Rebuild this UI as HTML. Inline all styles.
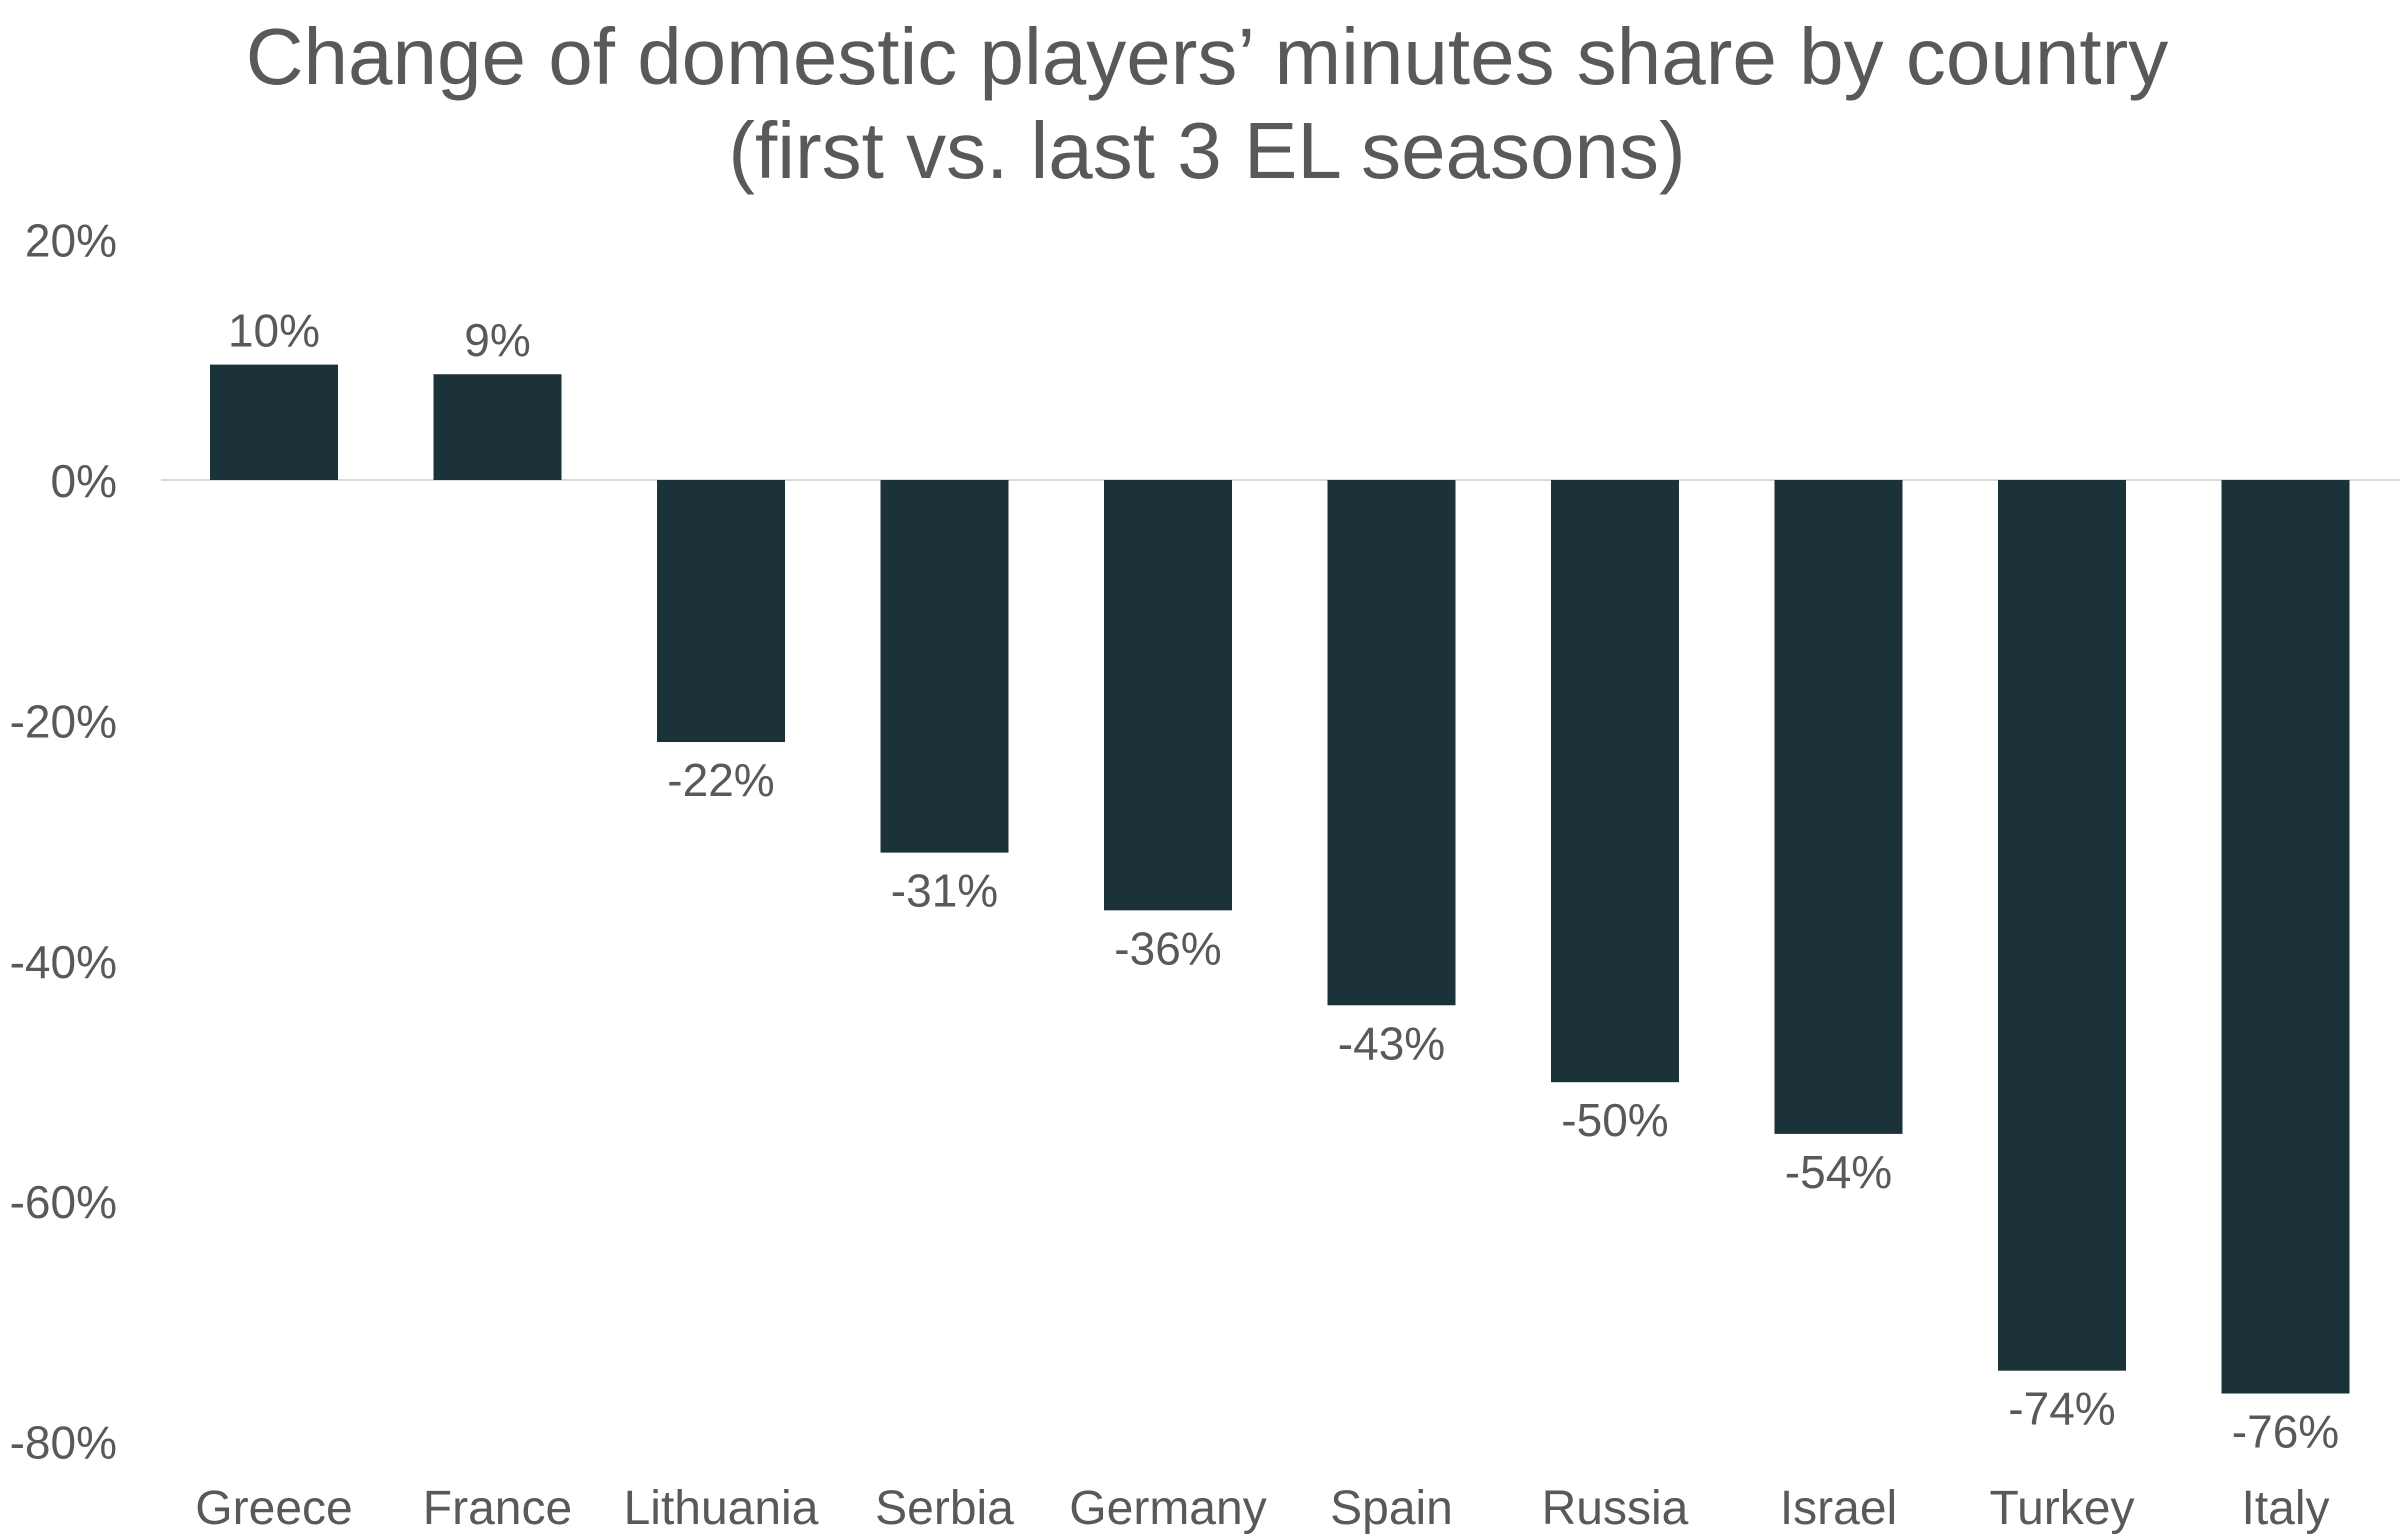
<!DOCTYPE html>
<html><head><meta charset="utf-8"><style>
html,body{margin:0;padding:0;background:#fff;}
svg{display:block;font-family:"Liberation Sans",sans-serif;}
</style></head><body>
<svg id="chart" width="2400" height="1536" viewBox="0 0 2400 1536" xmlns="http://www.w3.org/2000/svg">
<text x="1207" y="84" text-anchor="middle" font-size="80" fill="#595959">Change of domestic players’ minutes share by country</text>
<text x="1207" y="178" text-anchor="middle" font-size="80" fill="#595959">(first vs. last 3 EL seasons)</text>
<g id="yaxis"></g>
<line x1="161" x2="2400" y1="480" y2="480" stroke="#d9d9d9" stroke-width="2"/>
<g id="bars"></g>
<g id="xaxis"></g>
</svg>
<script>
const categories = ["Greece","France","Lithuania","Serbia","Germany","Spain","Russia","Israel","Turkey","Italy"];
const values = [9.6, 8.8, -21.8, -31.0, -35.8, -43.7, -50.1, -54.4, -74.1, -76.0];
const valueLabels = ["10%","9%","-22%","-31%","-36%","-43%","-50%","-54%","-74%","-76%"];
const yTicks = [20, 0, -20, -40, -60, -80];
const yTickLabels = ["20%","0%","-20%","-40%","-60%","-80%"];

const NS = "http://www.w3.org/2000/svg";
const y = v => 480 - v * 12.02;
const xc = i => 274 + i * 223.5;
const bw = 128;
const yaxis = document.getElementById('yaxis');
yTicks.forEach((t, i) => {
  const tx = document.createElementNS(NS, 'text');
  
  
  tx.setAttribute('x', 117); tx.setAttribute('y', y(t) + 17);
  tx.setAttribute('text-anchor', 'end'); tx.setAttribute('font-size', '46'); tx.setAttribute('fill', '#595959');
  tx.textContent = yTickLabels[i];
  yaxis.appendChild(tx);
});
const bars = document.getElementById('bars');
const xaxis = document.getElementById('xaxis');
categories.forEach((c, i) => {
  const v = values[i];
  const r = document.createElementNS(NS, 'rect');
  
  
  r.setAttribute('x', xc(i) - bw / 2); r.setAttribute('width', bw);
  r.setAttribute('y', Math.min(y(v), y(0))); r.setAttribute('height', Math.abs(y(v) - y(0)));
  r.setAttribute('fill', '#1c3239');
  bars.appendChild(r);
  const lb = document.createElementNS(NS, 'text');
  
  
  lb.setAttribute('x', xc(i));
  lb.setAttribute('y', v >= 0 ? y(v) - 18 : y(v) + 54);
  lb.setAttribute('text-anchor', 'middle'); lb.setAttribute('font-size', '46'); lb.setAttribute('fill', '#595959');
  lb.textContent = valueLabels[i];
  bars.appendChild(lb);
  const cl = document.createElementNS(NS, 'text');
  
  
  cl.setAttribute('x', xc(i)); cl.setAttribute('y', 1524);
  cl.setAttribute('text-anchor', 'middle'); cl.setAttribute('font-size', '48'); cl.setAttribute('fill', '#595959');
  cl.textContent = c;
  xaxis.appendChild(cl);
});
</script>
</body></html>
